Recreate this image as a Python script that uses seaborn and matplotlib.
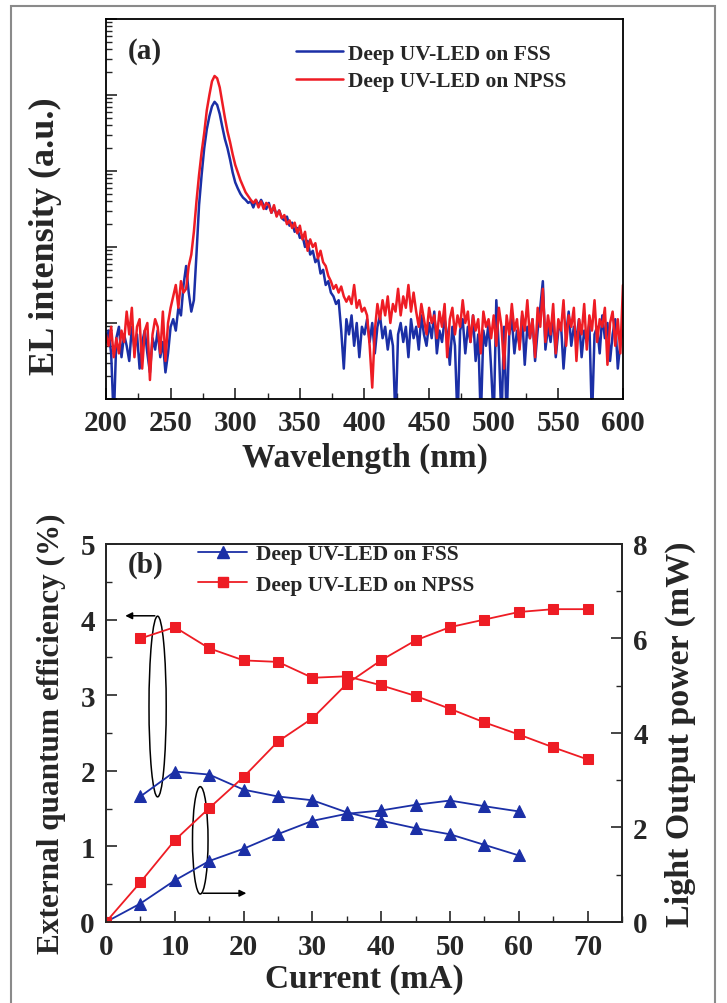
import numpy as np
import pandas as pd
import matplotlib
matplotlib.use("Agg")
import matplotlib.pyplot as plt
import seaborn as sns
from matplotlib.patches import Ellipse, Rectangle
from matplotlib.ticker import MultipleLocator, NullFormatter, LogLocator

sns.set_style("ticks")
plt.rcParams.update({
    "font.family": ["Liberation Serif", "DejaVu Serif"],
    "font.weight": "bold",
    "axes.labelweight": "bold",
    "xtick.direction": "in",
    "ytick.direction": "in",
    "axes.linewidth": 1.3,
})

BLUE = "#1b2fa6"
RED = "#ee1c24"

# ---- (a) EL spectra, log10 of intensity (a.u.), 200-600 nm every 2 nm ----
wavelength = np.arange(200, 601, 2)
fss_log = [
    0.75, 0.90, 0.60, -0.30, 0.80, 0.95, 0.55, 0.85, 0.70, 0.50,
    0.95, 0.65, 0.85, 0.40, 0.75, 0.90, 0.60, 0.35, 0.80, 0.65,
    0.90, 0.55, 0.75, 0.35, 0.60, 0.95, 1.05, 0.90, 1.20, 1.10,
    1.50, 1.75, 1.40, 1.15, 1.30, 1.90, 2.55, 2.95, 3.30, 3.55,
    3.72, 3.85, 3.91, 3.87, 3.75, 3.58, 3.42, 3.30, 3.15, 2.98,
    2.85, 2.77, 2.70, 2.65, 2.62, 2.58, 2.60, 2.52, 2.62, 2.55,
    2.62, 2.55, 2.50, 2.58, 2.45, 2.52, 2.42, 2.48, 2.38, 2.35,
    2.40, 2.28, 2.32, 2.20, 2.25, 2.12, 2.15, 2.00, 2.08, 1.90,
    1.95, 1.80, 1.85, 1.65, 1.70, 1.50, 1.55, 1.40, 1.35, 1.25,
    1.30, 0.90, 0.40, 1.05, 0.85, 1.10, 0.70, 1.00, 0.55, 0.95,
    0.85, 1.05, 0.75, 1.00, 0.60, 0.95, 1.10, 0.80, 0.95, 0.65,
    0.90, 0.70, -0.30, 0.85, 1.00, 0.75, 0.95, 0.55, 1.05, 0.80,
    0.95, 0.65, 1.10, 0.85, 0.70, 1.00, 0.80, 1.15, 0.60, 0.90,
    0.75, 1.05, 0.85, 0.45, 0.95, 0.70, -0.30, 0.90, 1.05, 0.60,
    0.95, 0.75, 1.10, 0.50, 0.85, -0.30, 0.90, 0.70, 1.00, 0.40,
    -0.30, 1.30, 0.65, -0.30, 0.95, -0.30, 0.85, 1.05, 0.60, 0.90,
    0.70, 1.10, 0.45, 0.95, 0.80, 1.05, 0.50, 0.90, 1.20, 1.55,
    0.65, 0.95, 0.75, 1.10, 0.55, 0.90, 1.00, 0.40, 0.85, 1.15,
    0.70, 0.95, 0.80, 1.05, 0.55, 0.90, 0.75, 1.00, -0.30, 0.85,
    0.95, 0.60, 1.10, 0.80, 1.00, 0.50, 0.85, 1.05, 0.40, 0.75, 0.90,
]
npss_log = [
    0.85, 0.70, 0.95, 0.55, 0.80, 0.60, 0.90, 0.75, 1.15, 0.85,
    1.20, 0.55, 0.95, 1.05, 0.40, 0.90, 1.00, 0.25, 0.85, 1.05,
    0.95, 0.60, 1.15, 0.50, 1.00, 1.20, 1.35, 1.50, 1.20, 1.55,
    1.40, 1.45, 1.75, 1.90, 2.20, 2.60, 2.95, 3.25, 3.50, 3.80,
    4.00, 4.18, 4.25, 4.22, 4.10, 3.90, 3.70, 3.52, 3.38, 3.22,
    3.08, 2.98, 2.88, 2.80, 2.72, 2.67, 2.62, 2.58, 2.62, 2.52,
    2.60, 2.50, 2.58, 2.55, 2.45, 2.55, 2.40, 2.48, 2.38, 2.42,
    2.30, 2.35, 2.25, 2.32, 2.18, 2.28, 2.10, 2.20, 1.95, 2.10,
    2.00, 2.05, 1.85, 1.95, 1.80, 1.75, 1.62, 1.55, 1.45, 1.50,
    1.40, 1.48, 1.35, 1.28, 1.35, 1.25, 1.50, 1.20, 1.30, 1.15,
    1.20, 1.10, 0.70, 0.15, 0.90, 1.25, 1.05, 1.30, 1.10, 1.35,
    1.00, 1.25, 1.15, 1.45, 1.10, 1.35, 1.20, 1.50, 1.15, 1.40,
    1.15, 0.95, 1.25, 1.05, 0.85, 1.20, 1.00, 1.10, 0.80, 1.15,
    0.95, 1.25, 0.55, 1.05, 1.20, 0.85, 1.10, 0.95, 1.30, 1.00,
    1.15, 0.75, 1.10, 0.90, 1.05, 0.60, 1.15, 0.95, 1.05, 0.80,
    1.10, 0.70, 1.20, 0.95, 0.40, 1.10, 0.85, 1.25, 0.90, 1.05,
    0.65, 1.15, 0.90, 1.30, 0.80, 1.05, 0.55, 1.20, 0.95, 1.45,
    0.75, 1.10, 0.85, 1.25, 0.60, 1.05, 0.90, 1.30, 0.70, 1.10,
    0.95, 1.20, 0.50, 1.05, 0.85, 1.25, 0.65, 1.10, 0.90, 1.30,
    0.75, 1.05, 0.95, 1.20, 0.45, 1.00, 1.15, 0.70, 1.05, 0.60, 1.50,
]

# ---- (b) EQE and light output power vs current ----
cur_fss = [5, 10, 15, 20, 25, 30, 35, 40, 45, 50, 55, 60]
eqe_fss = [1.66, 1.99, 1.95, 1.75, 1.66, 1.61, 1.45, 1.34, 1.24, 1.16, 1.02, 0.88]
pcur_fss = [0, 5, 10, 15, 20, 25, 30, 35, 40, 45, 50, 55, 60]
pow_fss = [0, 0.39, 0.88, 1.29, 1.55, 1.86, 2.14, 2.29, 2.36, 2.48, 2.57, 2.45, 2.34]

cur_npss = [5, 10, 15, 20, 25, 30, 35, 40, 45, 50, 55, 60, 65, 70]
eqe_npss = [3.75, 3.90, 3.62, 3.46, 3.44, 3.23, 3.25, 3.13, 2.99, 2.82, 2.64, 2.48, 2.31, 2.15]
pcur_npss = [0, 5, 10, 15, 20, 25, 30, 35, 40, 45, 50, 55, 60, 65, 70]
pow_npss = [0, 0.84, 1.73, 2.41, 3.07, 3.82, 4.31, 5.04, 5.54, 5.96, 6.24, 6.40, 6.56, 6.62, 6.62]

LBL_FSS = "Deep UV-LED on FSS"
LBL_NPSS = "Deep UV-LED on NPSS"

fig = plt.figure(figsize=(7.27, 10.04), dpi=100)
fig.patches.append(Rectangle((0.015, -0.01), 0.969, 1.003, transform=fig.transFigure,
                             fill=False, edgecolor="#8a8a8a", linewidth=1.5))

# ── (a) ──────────────────────────────────────────────────────────────────────
ax = fig.add_axes([0.1458, 0.6016, 0.7111, 0.3785])
spec = pd.DataFrame({
    "wl": np.concatenate([wavelength, wavelength]),
    "I": np.power(10.0, np.concatenate([fss_log, npss_log])),
    "sample": [LBL_FSS] * len(wavelength) + [LBL_NPSS] * len(wavelength),
})
sns.lineplot(data=spec, x="wl", y="I", hue="sample", palette=[BLUE, RED],
             estimator=None, sort=False, linewidth=1.8, ax=ax, legend=False)
ax.set_yscale("log")
ax.set_ylim(1, 1e5)
ax.set_xlim(200, 600)
ax.xaxis.set_major_locator(MultipleLocator(50))
ax.xaxis.set_minor_locator(MultipleLocator(25))
ax.yaxis.set_major_locator(LogLocator(base=10))
ax.yaxis.set_minor_locator(LogLocator(base=10, subs=np.arange(2, 10)))
ax.yaxis.set_major_formatter(NullFormatter())
ax.yaxis.set_minor_formatter(NullFormatter())
ax.tick_params(which="major", length=8, width=1.2, labelsize=21, pad=7)
ax.tick_params(which="minor", length=4, width=1.0)
ax.tick_params(top=False, right=False, which="both")
ax.set_xlabel("Wavelength (nm)", fontsize=24, labelpad=4)
ax.set_ylabel("EL intensity (a.u.)", fontsize=26)
ax.yaxis.set_label_coords(-0.085, 0.43)
ax.text(0.042, 0.916, "(a)", transform=ax.transAxes, fontsize=21, va="center")
h1, = ax.plot([], [], color=BLUE, lw=1.8)
h2, = ax.plot([], [], color=RED, lw=1.8)
ax.legend([h1, h2], [LBL_FSS, LBL_NPSS], loc="upper left", bbox_to_anchor=(0.367, 0.935),
          frameon=False, fontsize=15.5, handlelength=2.2, handletextpad=0.25,
          labelspacing=0.35, borderpad=0, borderaxespad=0)
for s in ax.spines.values():
    s.set_color("black")

# ── (b) ──────────────────────────────────────────────────────────────────────
bx = fig.add_axes([0.1458, 0.0807, 0.7098, 0.3765])
bx2 = bx.twinx()
sns.lineplot(x=cur_fss, y=eqe_fss, color=BLUE, marker="^", markersize=9,
             markeredgecolor=BLUE, linewidth=1.3, ax=bx)
sns.lineplot(x=cur_npss, y=eqe_npss, color=RED, marker="s", markersize=7.5,
             markeredgecolor=RED, linewidth=1.3, ax=bx)
sns.lineplot(x=pcur_fss, y=pow_fss, color=BLUE, marker="^", markersize=9,
             markeredgecolor=BLUE, linewidth=1.3, ax=bx2)
sns.lineplot(x=pcur_npss, y=pow_npss, color=RED, marker="s", markersize=7.5,
             markeredgecolor=RED, linewidth=1.3, ax=bx2)
bx.set_xlim(0, 75)
bx.set_ylim(0, 5)
bx2.set_ylim(0, 8)
bx.xaxis.set_major_locator(MultipleLocator(10))
bx.xaxis.set_minor_locator(MultipleLocator(5))
bx.yaxis.set_major_locator(MultipleLocator(1))
bx.yaxis.set_minor_locator(MultipleLocator(0.5))
bx2.yaxis.set_major_locator(MultipleLocator(2))
bx2.yaxis.set_minor_locator(MultipleLocator(1))
for a in (bx, bx2):
    a.tick_params(which="major", length=8, width=1.2, labelsize=21, pad=8)
    a.tick_params(which="minor", length=4, width=1.0)
bx.tick_params(which="both", top=False, right=False)
bx2.tick_params(which="both", left=False, right=True)
bx.set_xlabel("Current (mA)", fontsize=24, labelpad=2)
bx.set_ylabel("External quantum efficiency (%)", fontsize=22.5, labelpad=10)
bx2.set_ylabel("Light Output power (mW)", fontsize=24.5, labelpad=12)
bx.text(0.042, 0.947, "(b)", transform=bx.transAxes, fontsize=21, va="center")

# ellipses and arrows marking which axis each pair belongs to
bx.add_patch(Ellipse((7.5, 2.85), 2.5, 2.39, fill=False, edgecolor="black", lw=1.1))
bx.annotate("", xy=(2.4, 4.05), xytext=(7.5, 4.05),
            arrowprops=dict(arrowstyle="-|>", color="black", lw=1.1, mutation_scale=10))
bx.add_patch(Ellipse((13.7, 1.08), 2.26, 1.42, fill=False, edgecolor="black", lw=1.1))
bx.annotate("", xy=(20.8, 0.38), xytext=(13.7, 0.38),
            arrowprops=dict(arrowstyle="-|>", color="black", lw=1.1, mutation_scale=10))

g1, = bx.plot([], [], color=BLUE, marker="^", markersize=9, lw=1.3)
g2, = bx.plot([], [], color=RED, marker="s", markersize=7.5, lw=1.3)
bx.legend([g1, g2], [LBL_FSS, LBL_NPSS], loc="upper left", bbox_to_anchor=(0.178, 1.0),
          frameon=False, fontsize=15.5, handlelength=2.3, handletextpad=0.4,
          labelspacing=0.5, borderpad=0, borderaxespad=0)

plt.savefig("out.png", dpi=100)
print("Saved: out.png")
